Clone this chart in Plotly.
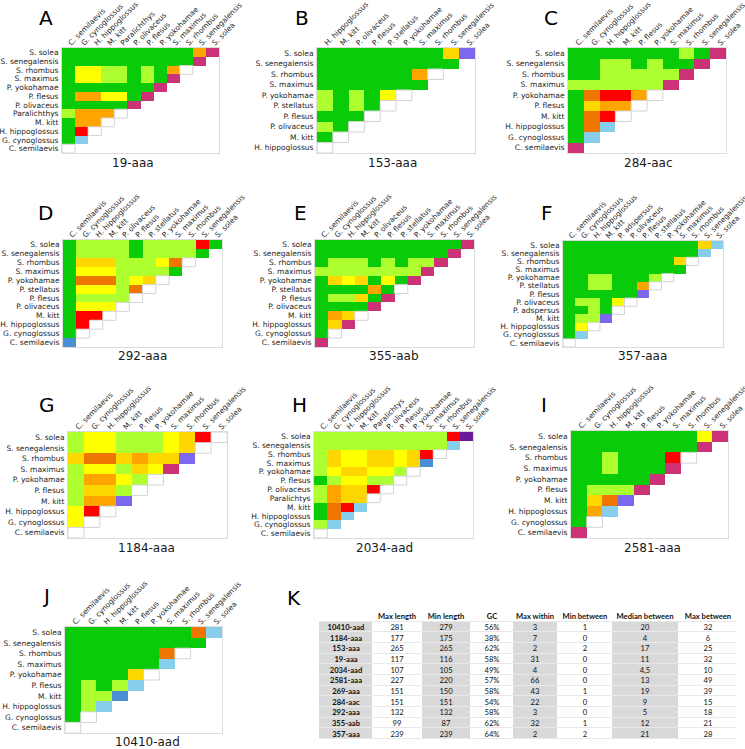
import plotly.graph_objects as go

FIG_W, FIG_H = 745, 749


def fx(xp):
    return xp / FIG_W


def fy(yp):
    return 1 - yp / FIG_H


# colour categories read from the cells
COLORS = {
    'G': '#0acb0a',  # green
    'L': '#adff2f',  # light green
    'Y': '#ffff00',  # yellow
    'D': '#ffd700',  # gold
    'O': '#ffa500',  # orange
    'T': '#ee7600',  # dark orange
    'X': '#ff0000',  # red
    'B': '#87ceeb',  # light blue
    'S': '#4a8fd4',  # steel blue
    'P': '#7b68ee',  # medium purple
    'V': '#6a1b9a',  # dark violet
    'M': '#cc3377',  # magenta
    'W': '#ffffff',  # empty
}

# ---- panel data (columns left->right; rows are the reverse order) ----
sp_19 = ["C. semilaevis", "G. cynoglossus", "H. hippoglossus", "M. kitt", "Paralichthys",
         "P. olivaceus", "P. flesus", "P. yokohamae", "S. maximus", "S. rhombus",
         "S. senegalensis", "S. solea"]
cells_19 = ["GGGGGGGGGGOM", "GGGGGGGGGGM", "GYYLLGLGOW", "GYYLLGLGM", "GGGGGGGM",
            "GOOYYGM", "GGGGGM", "LOOOW", "GOOW", "GXW", "GB", "W"]

sp_153 = ["H. hippoglossus", "M. kitt", "P. olivaceus", "P. flesus", "P. stellatus",
          "P. yokohamae", "S. maximus", "S. rhombus", "S. senegalensis", "S. solea"]
cells_153 = ["GGGGGGGGDP", "GGGGGGGGG", "GGGGGGOW", "GGGGGGG", "LGLGYW", "LGLGW",
             "GGGW", "LGW", "GW", "W"]

sp_284 = ["C. semilaevis", "G. cynoglossus", "H. hippoglossus", "M. kitt", "P. flesus",
          "P. yokohamae", "S. maximus", "S. rhombus", "S. senegalensis", "S. solea"]
cells_284 = ["GGGGGGGLGM", "GGLLGLGGM", "GGLLLLLM", "LLLLLLM", "GTXXOW", "GDOOW",
             "GTXW", "GTB", "GB", "M"]

sp_292 = ["C. semilaevis", "G. cynoglossus", "H. hippoglossus", "M. kitt", "P. olivaceus",
          "P. flesus", "P. stellatus", "P. yokohamae", "S. maximus", "S. rhombus",
          "S. senegalensis", "S. solea"]
cells_292 = ["GLLLLGLLLLXG", "GLLLLGLLLLG", "GDDDLLLYTW", "GYYYLLLLG", "GTTTLYDW",
             "GYYYLTW", "GLLLLW", "GYYYW", "GXXW", "GXW", "GW", "S"]

sp_355 = ["C. semilaevis", "G. cynoglossus", "H. hippoglossus", "M. kitt", "P. olivaceus",
          "P. flesus", "P. stellatus", "P. yokohamae", "S. maximus", "S. rhombus",
          "S. senegalensis", "S. solea"]
cells_355 = ["GGGGGGGGGGGM", "GGGGGGGGGGM", "GLLLGLGLLM", "LLLLLLLLM", "GDYDGYGM",
             "GGGGOGW", "GLLDGM", "GGGGM", "GODW", "GDM", "GW", "M"]

sp_357 = ["C. semilaevis", "G. cynoglossus", "H. hippoglossus", "M. kitt", "P. adspersus",
          "P. olivaceus", "P. flesus", "P. stellatus", "P. yokohamae", "S. maximus",
          "S. rhombus", "S. senegalensis", "S. solea"]
cells_357 = ["GGGGGGGGGGGDB", "GGGGGGGGGGGB", "GGGGGGGGGDW", "GGGGGGGGGG", "GGLLGGGLW",
             "GGLLGGOW", "GGGGGGP", "GLLGYW", "GGLGW", "GLLP", "GYW", "GB", "W"]

sp_1184 = ["C. semilaevis", "G. cynoglossus", "H. hippoglossus", "M. kitt", "P. flesus",
           "P. yokohamae", "S. maximus", "S. rhombus", "S. senegalensis", "S. solea"]
cells_1184 = ["LYYLLLYDXW", "LYYLLLYDW", "DTTDODDP", "LYYLDYM", "LOOYLW", "LDDLW",
              "LOOP", "YXW", "YW", "W"]

sp_2034 = ["C. semilaevis", "G. cynoglossus", "H. hippoglossus", "M. kitt", "Paralichtys",
           "P. olivaceus", "P. flesus", "P. yokohamae", "S. maximus", "S. rhombus",
           "S. senegalensis", "S. solea"]
cells_2034 = ["LLLLLLLLLLXV", "LLLLLLLLLLB", "LDYYDDYDXW", "LDYYDDYDS", "LYDDYYLW",
              "GLYYLLW", "LODDXW", "LODDW", "GTXB", "GTB", "LB", "W"]

sp_2581 = ["C. semilaevis", "G. cynoglossus", "H. hippoglossus", "M. kitt", "P. flesus",
           "P. yokohamae", "S. maximus", "S. rhombus", "S. senegalensis", "S. solea"]
cells_2581 = ["GGGGGGGGYM", "GGGGGGGGM", "GGLGGGXW", "GGLGGGM", "GGGGGM", "GLLLM",
              "GDTP", "GOB", "GW", "M"]

sp_10410 = ["C. semilaevis", "G. cynoglossus", "H. hippoglossus", "M. kitt", "P. flesus",
            "P. yokohamae", "S. maximus", "S. rhombus", "S. senegalensis", "S. solea"]
cells_10410 = ["GGGGGGGGTB", "GGGGGGGGG", "GGGGGGTW", "GGGGGGB", "GGGGDW", "GLGLB",
               "GLLS", "GLB", "GW", "W"]

# ---- table data ----
tbl_headers = ["", "Max length", "Min length", "GC", "Max within", "Min between",
               "Median between", "Max between"]
tbl_names = ["10410-aad", "1184-aaa", "153-aaa", "19-aaa", "2034-aad", "2581-aaa",
             "269-aaa", "284-aac", "292-aaa", "355-aab", "357-aaa"]
tbl_max_len = [281, 177, 265, 117, 107, 227, 151, 151, 132, 99, 239]
tbl_min_len = [279, 175, 265, 116, 105, 220, 150, 151, 132, 87, 239]
tbl_gc = ["56%", "38%", "62%", "58%", "49%", "57%", "58%", "54%", "58%", "62%", "64%"]
tbl_max_within = [3, 7, 2, 31, 4, 66, 43, 22, 3, 32, 2]
tbl_min_between = [1, 0, 2, 0, 0, 0, 1, 0, 0, 1, 2]
tbl_median_between = ["20", "4", "17", "11", "4,5", "13", "19", "9", "5", "12", "21"]
tbl_max_between = [32, 6, 25, 32, 10, 49, 39, 15, 18, 21, 28]
tbl_col_widths = [53, 50, 48, 43, 44, 55, 66, 59]
tbl_col_shaded = [1, 0, 1, 0, 1, 0, 1, 0]

# ---- layout of panels (page pixel boxes) ----
panels = [
    ("A", "19-aaa", sp_19, cells_19, (62, 219, 48, 153), (133, 163), (46, 18), False),
    ("B", "153-aaa", sp_153, cells_153, (317, 475, 48, 153), (393, 163), (302, 18), False),
    ("C", "284-aac", sp_284, cells_284, (568, 726, 48, 153), (648, 163), (551, 18), False),
    ("D", "292-aaa", sp_292, cells_292, (63, 222, 240, 347), (142, 356), (45, 213), False),
    ("E", "355-aab", sp_355, cells_355, (315, 474, 240, 347), (394, 356), (300, 213), False),
    ("F", "357-aaa", sp_357, cells_357, (563, 723, 241, 347), (642, 356), (547, 213), False),
    ("G", "1184-aaa", sp_1184, cells_1184, (68, 227, 432, 538), (146, 548), (47, 405), True),
    ("H", "2034-aad", sp_2034, cells_2034, (314, 473, 432, 538), (384, 548), (299, 405), True),
    ("I", "2581-aaa", sp_2581, cells_2581, (571, 728, 431, 538), (652, 548), (544, 405), True),
    ("J", "10410-aad", sp_10410, cells_10410, (65, 222, 627, 733), (147, 742), (46, 596), True),
]

codes = list(COLORS.keys())
K = len(codes)
colorscale = []
for k, c in enumerate(codes):
    colorscale.append([k / K, COLORS[c]])
    colorscale.append([(k + 1) / K, COLORS[c]])

FONT = "DejaVu Sans"
fig = go.Figure()
layout = {}
shapes = []
annotations = []

for p, (letter, title, species, cells, box, tpos, lpos, bticks) in enumerate(panels):
    n = len(species)
    rows = species[::-1]
    z = []
    for i in range(n):
        row = [codes.index(ch) for ch in cells[i]] + [None] * (n - len(cells[i]))
        z.append(row)
    ax = '' if p == 0 else str(p + 1)
    fig.add_trace(go.Heatmap(
        z=z, x=list(range(n)), y=list(range(n)), colorscale=colorscale,
        zmin=-0.5, zmax=K - 0.5, showscale=False, hoverinfo='skip',
        xaxis='x' + ax, yaxis='y' + ax))
    x0, x1, y0, y1 = box
    layout['xaxis' + ax] = dict(
        domain=[fx(x0), fx(x1)], anchor='y' + ax, side='top',
        range=[-0.5, n - 0.5], tickmode='array', tickvals=list(range(n)), ticktext=species,
        tickangle=-45, tickfont=dict(size=7.4, family=FONT, color='#262626'),
        ticklabeloverflow='allow', ticklabelstandoff=-3,
        showgrid=False, zeroline=False, showline=True, mirror=True, automargin=False,
        linecolor='#dcdcdc', linewidth=1, ticks='', layer='below traces', fixedrange=True)
    layout['yaxis' + ax] = dict(
        domain=[fy(y1), fy(y0)], anchor='x' + ax,
        range=[n - 0.5, -0.5], tickmode='array', tickvals=list(range(n)), ticktext=rows,
        tickfont=dict(size=7.5, family=FONT, color='#262626'),
        ticklabeloverflow='allow',
        showgrid=False, zeroline=False, showline=True, mirror=True, automargin=False,
        linecolor='#dcdcdc', linewidth=1, ticks='', ticklabelstandoff=1,
        layer='below traces', fixedrange=True)
    if bticks:
        layout['xaxis%d' % (20 + p)] = dict(
            overlaying='x' + ax, anchor='y' + ax, side='bottom', automargin=False,
            range=[-0.5, n - 0.5], tickmode='array', tickvals=list(range(n)),
            ticks='outside', ticklen=3, tickcolor='#c8c8c8', tickwidth=1,
            showticklabels=False, showgrid=False, zeroline=False, showline=False,
            fixedrange=True)
    for i in range(n):
        for j, ch in enumerate(cells[i]):
            if ch == 'W':
                shapes.append(dict(type='rect', xref='x' + ax, yref='y' + ax,
                                   x0=j - 0.5, x1=j + 0.5, y0=i - 0.5, y1=i + 0.5,
                                   line=dict(color='#d4d4d4', width=1),
                                   fillcolor='rgba(0,0,0,0)', layer='above'))
    annotations.append(dict(text=title, x=fx(tpos[0]), y=fy(tpos[1]),
                            xref='paper', yref='paper', showarrow=False,
                            xanchor='center', yanchor='middle',
                            font=dict(size=12, family=FONT, color='#1a1a1a')))
    annotations.append(dict(text=letter, x=fx(lpos[0]), y=fy(lpos[1]),
                            xref='paper', yref='paper', showarrow=False,
                            xanchor='center', yanchor='middle',
                            font=dict(size=20, family=FONT, color='#000000')))

annotations.append(dict(text="K", x=fx(294), y=fy(598), xref='paper', yref='paper',
                        showarrow=False, xanchor='center', yanchor='middle',
                        font=dict(size=20, family=FONT, color='#000000')))

# ---- table K drawn as a heatmap of cells ----
GRAY = '#d9d9d9'
nrow = len(tbl_names)
tbl_cols = [['<b>%s</b>' % s for s in tbl_names], tbl_max_len, tbl_min_len, tbl_gc,
            tbl_max_within, tbl_min_between, tbl_median_between, tbl_max_between]
edges = [0]
for w in tbl_col_widths:
    edges.append(edges[-1] + w)
tz, ttext = [], []
tz.append([0] * len(tbl_headers))
ttext.append(['<b>%s</b>' % h if h else '' for h in tbl_headers])
for r in range(nrow):
    tz.append([tbl_col_shaded[c] for c in range(len(tbl_cols))])
    ttext.append([str(tbl_cols[c][r]) for c in range(len(tbl_cols))])
fig.add_trace(go.Heatmap(
    z=tz, x=edges, y=list(range(nrow + 1)), text=ttext, texttemplate='%{text}',
    textfont=dict(family='Lato', size=7.6, color='#111111'),
    colorscale=[[0, 'white'], [1, GRAY]], zmin=0, zmax=1, showscale=False,
    ygap=1, xgap=0, hoverinfo='skip', xaxis='x11', yaxis='y11'))
layout['xaxis11'] = dict(domain=[fx(319), fx(737)], anchor='y11',
                         range=[0, edges[-1]], visible=False, automargin=False, fixedrange=True)
layout['yaxis11'] = dict(domain=[fy(739), fy(611)], anchor='x11',
                         range=[nrow + 0.5, -0.5], visible=False, automargin=False,
                         fixedrange=True)
shapes.append(dict(type='rect', xref='x11 domain', yref='y11 domain', x0=0, x1=1, y0=0, y1=1,
                   fillcolor='#e8e8e8', line=dict(width=0), layer='below'))

fig.update_layout(width=FIG_W, height=FIG_H, margin=dict(l=0, r=0, t=0, b=0),
                  paper_bgcolor='white', plot_bgcolor='white', autosize=False,
                  showlegend=False, shapes=shapes, annotations=annotations, **layout)
# the page body has a default 8px margin; remove it so the figure fills the window
fig.write_html("out.html", config={'displayModeBar': False},
               post_script="document.body.style.margin='0';")
